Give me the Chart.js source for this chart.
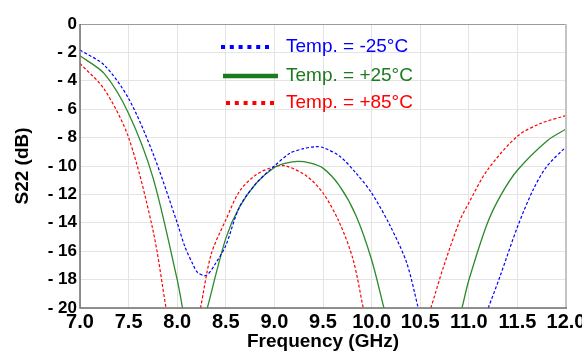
<!DOCTYPE html>
<html>
<head>
<meta charset="utf-8">
<script src="https://cdn.jsdelivr.net/npm/chart.js@4.4.1/dist/chart.umd.min.js"></script>
<style>
  html, body { margin: 0; padding: 0; background: #ffffff; }
  #wrap { width: 582px; height: 354px; position: relative; }
</style>
</head>
<body>
<div id="wrap"><canvas id="c" width="582" height="354"></canvas></div>
<script>
// ---- data (null = curve below -20 dB, out of view) ----
const seriesNames = ['Temp. = -25°C', 'Temp. = +25°C', 'Temp. = +85°C'];

const freqM25 = [7.0, 7.25, 7.5, 7.75, 8.0, 8.08, 8.16, 8.21, 8.3, 8.4, 8.5, 8.64, 8.815, 9.0, 9.16, 9.3, 9.42, 9.5, 9.67, 9.84, 10.0, 10.19, 10.36, 10.48, 10.8, 11.2, 11.32, 11.5, 11.66, 11.8, 12.0];
const s22M25  = [-1.84, -2.9, -5.25, -9.1, -14.0, -15.7, -16.9, -17.5, -17.7, -16.8, -15.6, -12.9, -11.2, -10.0, -9.1, -8.78, -8.64, -8.7, -9.3, -10.5, -11.9, -14.2, -16.8, -20.0, null, -20.0, -17.8, -14.3, -11.7, -10.05, -8.65];

const freqP25 = [7.0, 7.25, 7.5, 7.75, 8.0, 8.055, 8.2, 8.31, 8.5, 8.64, 8.815, 9.0, 9.12, 9.24, 9.36, 9.5, 9.67, 9.84, 10.0, 10.127, 10.5, 10.93, 11.0, 11.19, 11.33, 11.5, 11.81, 12.0];
const s22P25  = [-2.24, -3.5, -6.3, -10.8, -18.0, -20.0, null, -20.0, -15.1, -12.9, -11.2, -10.1, -9.8, -9.68, -9.78, -10.15, -11.4, -13.5, -16.6, -20.0, null, -20.0, -18.05, -14.05, -12.05, -10.3, -8.2, -7.4];

const freqP85 = [7.0, 7.25, 7.5, 7.75, 7.885, 8.05, 8.24, 8.35, 8.5, 8.643, 8.815, 9.0, 9.12, 9.33, 9.5, 9.67, 9.81, 9.914, 10.3, 10.61, 10.74, 10.91, 11.0, 11.19, 11.5, 11.74, 12.0];
const s22P85  = [-2.78, -4.6, -8.0, -14.5, -20.0, null, -20.0, -16.2, -13.8, -11.76, -10.6, -10.05, -10.0, -10.7, -11.9, -14.0, -16.6, -20.0, null, -20.0, -17.1, -13.8, -12.6, -10.3, -7.9, -7.0, -6.45];

const xTickValues = [7.0, 7.5, 8.0, 8.5, 9.0, 9.5, 10.0, 10.5, 11.0, 11.5, 12.0];
const yTickValues = [0, -2, -4, -6, -8, -10, -12, -14, -16, -18, -20];

function pts(xs, ys) { return xs.map((x, i) => ({ x: x, y: ys[i] })); }

const COLORS = ['#0000ff', '#2a8a2a', '#ff0000'];
const LEGEND_COLORS = ['#0000ff', '#1e7a1e', '#ff0000'];
const FONT = "'Liberation Sans', Arial, sans-serif";

const legendPlugin = {
  id: 'inlineLegend',
  afterDatasetsDraw(chart) {
    const ctx = chart.ctx;
    const items = [
      { y: 47, x1: 221, x2: 271, w: 4, dash: [4, 4.8] },
      { y: 76, x1: 223, x2: 278, w: 4.5, dash: [] },
      { y: 103, x1: 226, x2: 274, w: 4, dash: [4, 4.8] }
    ];
    ctx.save();
    items.forEach((it, i) => {
      ctx.beginPath();
      ctx.setLineDash(it.dash);
      ctx.lineWidth = it.w;
      ctx.strokeStyle = LEGEND_COLORS[i];
      ctx.moveTo(it.x1, it.y);
      ctx.lineTo(it.x2, it.y);
      ctx.stroke();
      ctx.setLineDash([]);
      ctx.fillStyle = LEGEND_COLORS[i];
      ctx.font = "19px " + FONT;
      ctx.textBaseline = 'middle';
      ctx.textAlign = 'left';
      ctx.fillText(seriesNames[i], 286, it.y);
    });
    ctx.restore();
  },
  afterDraw(chart) {
    const a = chart.chartArea, ctx = chart.ctx;
    ctx.save();
    ctx.setLineDash([]);
    ctx.strokeStyle = '#9a9a9a';
    ctx.lineWidth = 1;
    ctx.beginPath();
    ctx.moveTo(a.left, a.top + 0.5); ctx.lineTo(a.right, a.top + 0.5);
    ctx.stroke();
    ctx.strokeStyle = '#c4c4c4';
    ctx.lineWidth = 2;
    ctx.beginPath();
    ctx.moveTo(a.right, a.top); ctx.lineTo(a.right, a.bottom);
    ctx.stroke();
    ctx.strokeStyle = '#6e6e6e';
    ctx.lineWidth = 1.5;
    ctx.beginPath();
    ctx.moveTo(a.left, a.top); ctx.lineTo(a.left, a.bottom); ctx.lineTo(a.right + 1, a.bottom);
    ctx.stroke();
    ctx.restore();
  }
};

new Chart(document.getElementById('c'), {
  type: 'line',
  data: {
    datasets: [
      { label: seriesNames[0], data: pts(freqM25, s22M25), borderColor: COLORS[0], borderWidth: 1.2, borderDash: [3, 2] },
      { label: seriesNames[1], data: pts(freqP25, s22P25), borderColor: COLORS[1], borderWidth: 1.3 },
      { label: seriesNames[2], data: pts(freqP85, s22P85), borderColor: COLORS[2], borderWidth: 1.2, borderDash: [3, 2] }
    ]
  },
  options: {
    responsive: false,
    animation: false,
    devicePixelRatio: 1,
    layout: { padding: { top: 24, right: 16, left: 0, bottom: 0 } },
    elements: {
      point: { radius: 0, hoverRadius: 0 },
      line: { tension: 0.3, fill: false }
    },
    spanGaps: false,
    plugins: { legend: { display: false }, tooltip: { enabled: false } },
    scales: {
      x: {
        type: 'linear', min: 7, max: 12,
        afterBuildTicks(s) { s.ticks = xTickValues.map(v => ({ value: v })); },
        afterFit(s) { s.height = 46; s.paddingLeft = 0; s.paddingRight = 0; },
        grid: { color: '#e4e4e4', lineWidth: 1, drawTicks: false },
        border: { display: false },
        ticks: {
          color: '#000', padding: 2, maxRotation: 0, autoSkip: false,
          font: { family: FONT, size: 20, weight: 'bold' },
          callback: v => Number(v).toFixed(1)
        },
        title: {
          display: true, text: 'Frequency (GHz)', color: '#000',
          font: { family: FONT, size: 19, weight: 'bold' },
          padding: { top: 0, bottom: 1 }
        }
      },
      y: {
        type: 'linear', min: -20, max: 0,
        afterBuildTicks(s) { s.ticks = yTickValues.map(v => ({ value: v })); },
        afterFit(s) { s.width = 80; s.paddingTop = 0; s.paddingBottom = 0; },
        grid: { color: '#e4e4e4', lineWidth: 1, drawTicks: false },
        border: { display: false },
        ticks: {
          color: '#000', padding: 3, autoSkip: false,
          font: { family: FONT, size: 17, weight: 'bold' },
          callback: v => (v === 0 ? '0' : '- ' + Math.abs(v))
        },
        title: {
          display: true, text: 'S22 (dB)', color: '#000',
          font: { family: FONT, size: 19, weight: 'bold' },
          padding: { top: 11, bottom: 0 }
        }
      }
    }
  },
  plugins: [legendPlugin]
});
</script>
</body>
</html>
